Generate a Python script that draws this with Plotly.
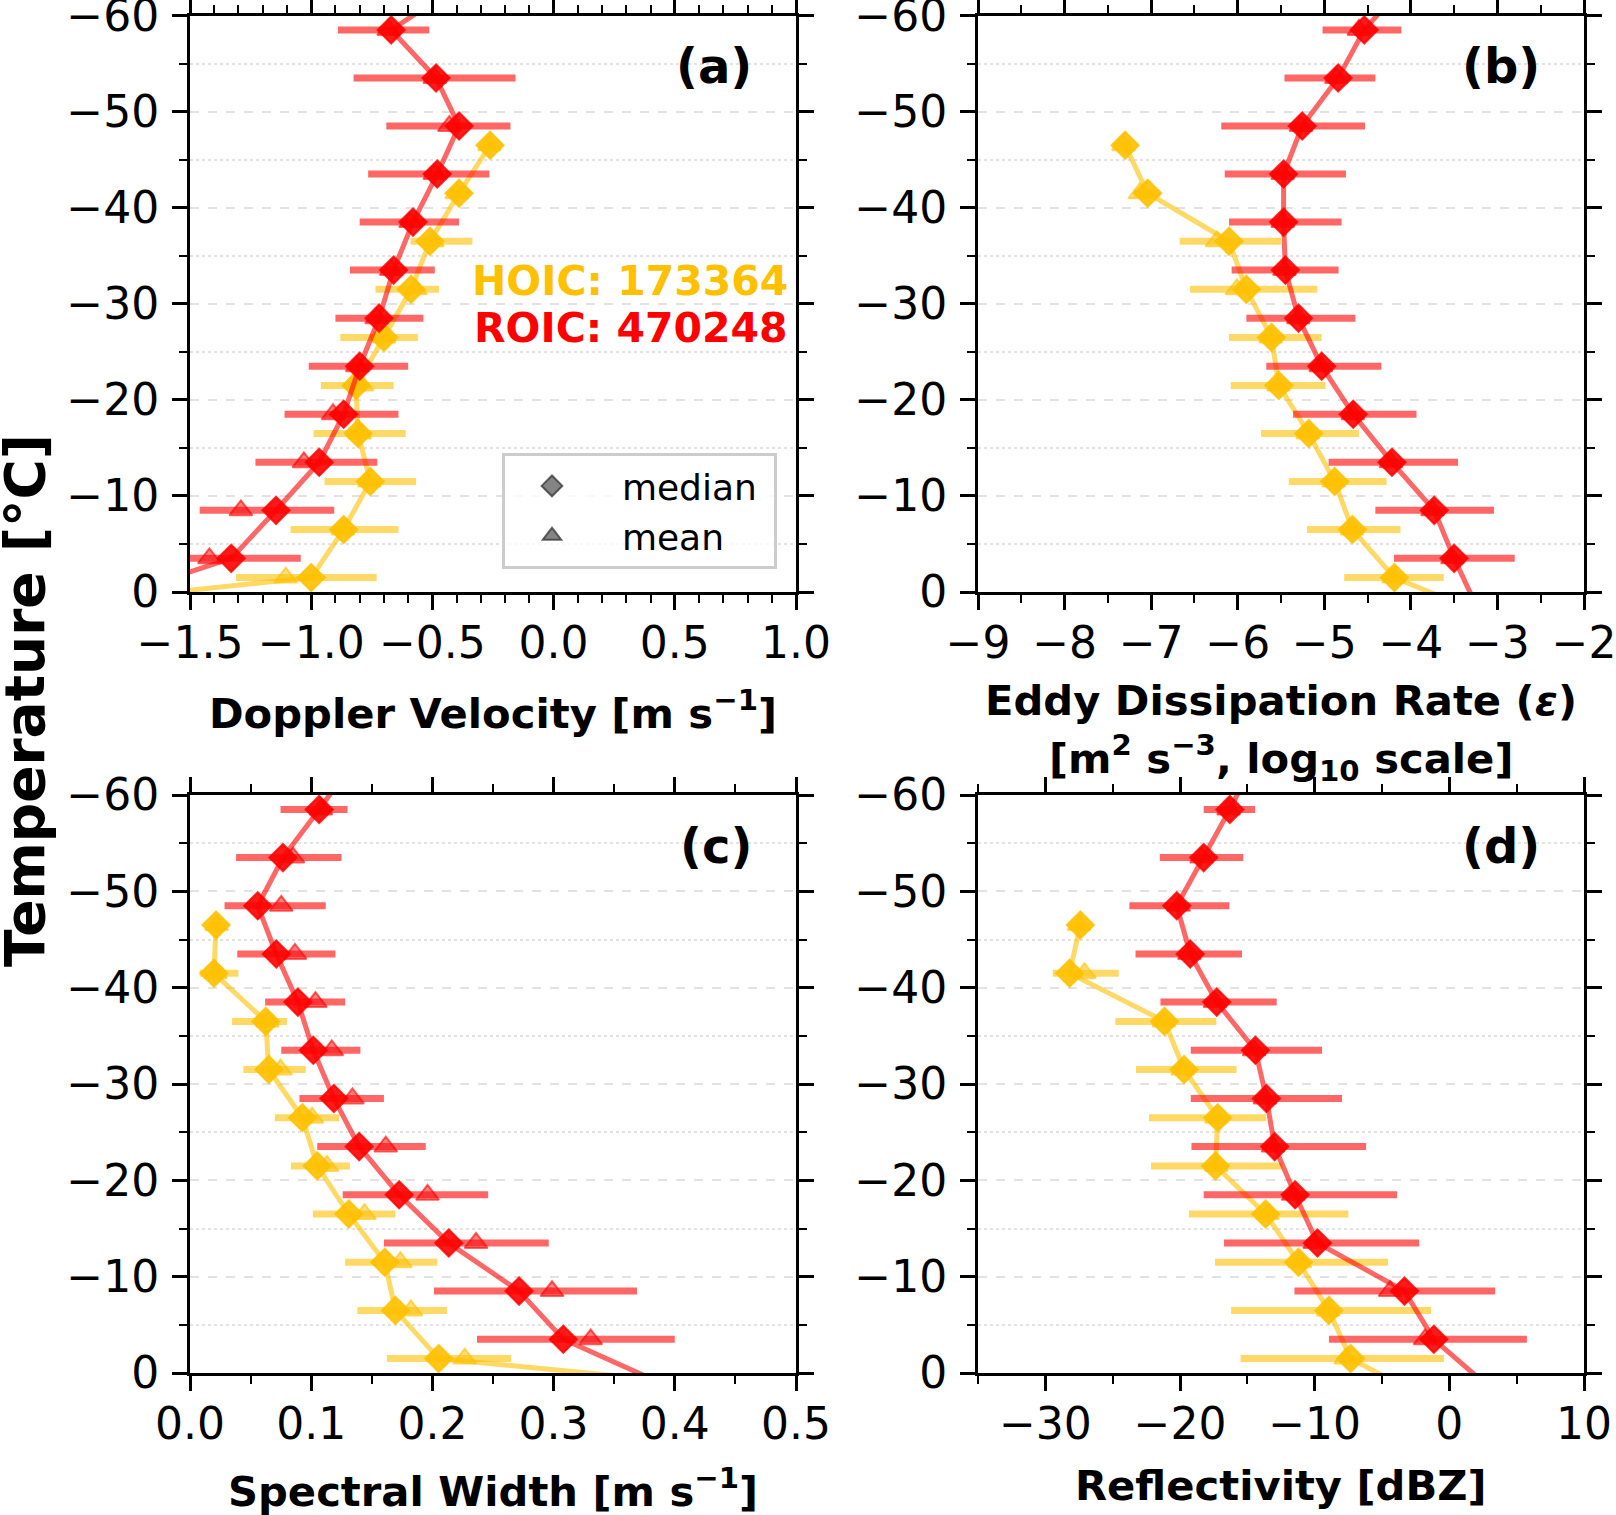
import plotly.graph_objects as go

# ============================
# Temperature bins [°C]
# ============================
t_roic = [-3.5, -8.5, -13.5, -18.5, -23.5, -28.5, -33.5, -38.5, -43.5, -48.5, -53.5, -58.5]
t_hoic = [-1.5, -6.5, -11.5, -16.5, -21.5, -26.5, -31.5, -36.5, -41.5, -46.5]
# profile lines run one bin further
t_roic_line = [1.5] + t_roic + [-63.5]
t_hoic_line = [3.5] + t_hoic

# ============================
# (a) Doppler velocity [m s-1]
# ============================
vd_roic_med = [-1.33, -1.145, -0.967, -0.866, -0.80, -0.72, -0.66, -0.58, -0.48, -0.39, -0.485, -0.67]
vd_roic_mean = [-1.42, -1.29, -1.03, -0.91, -0.81, -0.73, -0.67, -0.59, -0.49, -0.43, -0.49, -0.68]
vd_roic_p25 = [-1.60, -1.46, -1.23, -1.11, -1.01, -0.90, -0.84, -0.80, -0.765, -0.69, -0.825, -0.89]
vd_roic_p75 = [-1.043, -0.905, -0.727, -0.64, -0.60, -0.537, -0.49, -0.39, -0.265, -0.178, -0.157, -0.513]
vd_roic_line = [-1.94] + vd_roic_med + [-0.37]

vd_hoic_med = [-1.00, -0.866, -0.756, -0.807, -0.815, -0.70, -0.588, -0.51, -0.39, -0.262]
vd_hoic_mean = [-1.105, -0.87, -0.76, -0.80, -0.79, -0.70, -0.57, -0.50, -0.40, -0.265]
vd_hoic_p25 = [-1.31, -1.085, -0.945, -0.99, -0.96, -0.88, -0.735, -0.59, -0.43, -0.29]
vd_hoic_p75 = [-0.73, -0.64, -0.567, -0.61, -0.66, -0.56, -0.473, -0.335, -0.35, -0.24]
vd_hoic_line = [-2.9] + vd_hoic_med

# ============================
# (b) Eddy dissipation rate [log10 m2 s-3]
# ============================
edr_roic_med = [-3.50, -3.73, -4.218, -4.666, -5.03, -5.297, -5.45, -5.47, -5.47, -5.255, -4.84, -4.538]
edr_roic_mean = [-3.52, -3.75, -4.23, -4.67, -5.04, -5.30, -5.46, -5.48, -5.48, -5.27, -4.86, -4.60]
edr_roic_p25 = [-4.195, -4.41, -4.95, -5.36, -5.67, -5.90, -6.07, -6.10, -6.15, -6.19, -5.46, -5.02]
edr_roic_p75 = [-2.80, -3.04, -3.455, -3.935, -4.34, -4.64, -4.835, -4.80, -4.75, -4.53, -4.41, -4.11]
edr_roic_line = [-3.24] + edr_roic_med + [-4.05]

edr_hoic_med = [-4.19, -4.675, -4.88, -5.18, -5.525, -5.61, -5.90, -6.10, -7.04, -7.30]
edr_hoic_mean = [-4.20, -4.68, -4.89, -5.19, -5.53, -5.62, -6.01, -6.24, -7.13, -7.32]
edr_hoic_p25 = [-4.77, -5.20, -5.41, -5.73, -6.08, -6.10, -6.55, -6.67, -7.20, -7.35]
edr_hoic_p75 = [-3.62, -4.12, -4.28, -4.60, -4.985, -5.03, -5.08, -5.50, -6.90, -7.25]
edr_hoic_line = [-2.84] + edr_hoic_med

# ============================
# (c) Spectral width [m s-1]
# ============================
sw_roic_med = [0.308, 0.2715, 0.2135, 0.1726, 0.1396, 0.1187, 0.1017, 0.089, 0.0712, 0.0559, 0.0767, 0.1066]
sw_roic_mean = [0.3306, 0.2987, 0.236, 0.196, 0.1615, 0.134, 0.117, 0.1035, 0.0866, 0.0753, 0.085, 0.108]
sw_roic_p25 = [0.2368, 0.2013, 0.160, 0.126, 0.105, 0.0903, 0.0753, 0.062, 0.039, 0.0285, 0.038, 0.0747]
sw_roic_p75 = [0.400, 0.3688, 0.296, 0.246, 0.1945, 0.160, 0.1406, 0.128, 0.120, 0.112, 0.125, 0.130]
sw_roic_line = [0.3966] + sw_roic_med + [0.135]

sw_hoic_med = [0.2052, 0.1695, 0.1607, 0.131, 0.105, 0.0927, 0.065, 0.0625, 0.0198, 0.0215]
sw_hoic_mean = [0.2267, 0.1823, 0.1736, 0.144, 0.113, 0.1007, 0.0747, 0.064, 0.021, 0.022]
sw_hoic_p25 = [0.1625, 0.138, 0.128, 0.1014, 0.0833, 0.070, 0.044, 0.0347, 0.008, 0.018]
sw_hoic_p75 = [0.265, 0.212, 0.204, 0.1695, 0.132, 0.123, 0.0955, 0.080, 0.040, 0.025]
sw_hoic_line = [0.615] + sw_hoic_med

# ============================
# (d) Reflectivity [dBZ]
# ============================
ze_roic_med = [-1.15, -3.33, -9.79, -11.45, -12.97, -13.58, -14.4, -17.27, -19.24, -20.24, -18.24, -16.3]
ze_roic_mean = [-1.8, -4.4, -10.0, -11.6, -13.1, -13.7, -14.5, -17.4, -19.3, -20.1, -18.4, -16.4]
ze_roic_p25 = [-8.94, -11.5, -16.73, -18.24, -19.15, -19.2, -19.2, -21.45, -23.3, -23.76, -21.5, -18.24]
ze_roic_p75 = [5.76, 3.4, -2.24, -3.88, -6.18, -7.97, -9.45, -12.82, -15.4, -16.33, -15.3, -14.42]
ze_roic_line = [2.97] + ze_roic_med + [-14.5]

ze_hoic_med = [-7.33, -8.94, -11.2, -13.64, -17.36, -17.2, -19.7, -21.15, -28.2, -27.4]
ze_hoic_mean = [-7.7, -9.0, -11.1, -13.5, -17.3, -17.3, -19.8, -21.2, -27.1, -27.5]
ze_hoic_p25 = [-15.5, -16.2, -17.4, -19.33, -22.15, -22.3, -23.27, -24.8, -29.45, -27.8]
ze_hoic_p75 = [-0.4, -1.36, -4.55, -7.5, -12.4, -13.6, -15.8, -17.3, -24.55, -27.0]
ze_hoic_line = [-0.6] + ze_hoic_med

n_hoic = 173364
n_roic = 470248

FONT = 'DejaVu Sans'
RED = 'rgb(255,0,0)'
GOLD = 'rgb(255,192,0)'
W, H = 1616, 1515

panels = [
    # axis suffix, label, x title lines with their centre (px from top), roic stats, hoic stats
    ('', '(a)', [('Doppler Velocity [m s<sup>−1</sup>]', 710)],
     (vd_roic_med, vd_roic_mean, vd_roic_p25, vd_roic_p75, vd_roic_line),
     (vd_hoic_med, vd_hoic_mean, vd_hoic_p25, vd_hoic_p75, vd_hoic_line)),
    ('2', '(b)', [('Eddy Dissipation Rate (<i>ε</i>)', 700),
                  ('[m<sup>2</sup> s<sup>−3</sup>, log<sub>10</sub> scale]', 758)],
     (edr_roic_med, edr_roic_mean, edr_roic_p25, edr_roic_p75, edr_roic_line),
     (edr_hoic_med, edr_hoic_mean, edr_hoic_p25, edr_hoic_p75, edr_hoic_line)),
    ('3', '(c)', [('Spectral Width [m s<sup>−1</sup>]', 1488)],
     (sw_roic_med, sw_roic_mean, sw_roic_p25, sw_roic_p75, sw_roic_line),
     (sw_hoic_med, sw_hoic_mean, sw_hoic_p25, sw_hoic_p75, sw_hoic_line)),
    ('4', '(d)', [('Reflectivity [dBZ]', 1485)],
     (ze_roic_med, ze_roic_mean, ze_roic_p25, ze_roic_p75, ze_roic_line),
     (ze_hoic_med, ze_hoic_mean, ze_hoic_p25, ze_hoic_p75, ze_hoic_line)),
]

fig = go.Figure()


def add_group(sfx, temps, temps_line, stats, rgb):
    med, mean, p25, p75, line = stats
    xa, ya = 'x' + sfx, 'y' + sfx
    base = rgb[4:-1]
    fig.add_trace(go.Scatter(
        x=line, y=temps_line, mode='lines', xaxis=xa, yaxis=ya,
        line=dict(color=f'rgba({base},0.6)', width=5), showlegend=False, hoverinfo='skip'))
    # interquartile range bars
    fig.add_trace(go.Scatter(
        x=med, y=temps, mode='markers', xaxis=xa, yaxis=ya, showlegend=False,
        marker=dict(size=1, color='rgba(0,0,0,0)'),
        error_x=dict(type='data', symmetric=False,
                     array=[b - m for b, m in zip(p75, med)],
                     arrayminus=[m - a for a, m in zip(p25, med)],
                     color=f'rgba({base},0.6)', thickness=7, width=0)))
    fig.add_trace(go.Scatter(
        x=mean, y=temps, mode='markers', xaxis=xa, yaxis=ya, showlegend=False,
        marker=dict(symbol='triangle-up', size=20, color=f'rgba({base},0.5)',
                    line=dict(color=f'rgba({base},0.6)', width=2))))
    fig.add_trace(go.Scatter(
        x=med, y=temps, mode='markers', xaxis=xa, yaxis=ya, showlegend=False,
        marker=dict(symbol='diamond', size=21, color=f'rgba({base},0.9)',
                    line=dict(color=f'rgba({base},0.8)', width=2))))


for sfx, lab, xtitle, roic, hoic in panels:
    add_group(sfx, t_hoic, t_hoic_line, hoic, GOLD)
    add_group(sfx, t_roic, t_roic_line, roic, RED)
    fig.add_annotation(text=lab, xref=f'x{sfx} domain', yref=f'y{sfx} domain',
                       x=0.93, y=0.912, xanchor='right', yanchor='middle', showarrow=False,
                       font=dict(family=FONT, size=48, color='black', weight='bold'))
    for txt, ty in xtitle:
        fig.add_annotation(text=txt, xref=f'x{sfx} domain', yref='paper',
                           x=0.5, y=1 - ty / H, xanchor='center', yanchor='middle', showarrow=False,
                           font=dict(family=FONT, size=41.7, color='black', weight='bold'))

# legend-only entries
fig.add_trace(go.Scatter(x=[None], y=[None], mode='markers', name='\u00a0\u00a0median\u00a0',
                         marker=dict(symbol='diamond', size=16, color='rgba(80,80,80,0.7)',
                                     line=dict(color='rgba(40,40,40,0.7)', width=2))))
fig.add_trace(go.Scatter(x=[None], y=[None], mode='markers', name='\u00a0\u00a0mean',
                         marker=dict(symbol='triangle-up', size=16, color='rgba(80,80,80,0.7)',
                                     line=dict(color='rgba(40,40,40,0.7)', width=2))))

fig.add_annotation(text=f'HOIC: {n_hoic}', xref='x domain', yref='y domain', x=0.99, y=0.5395,
                   xanchor='right', yanchor='middle', showarrow=False,
                   font=dict(family=FONT, size=41, color=GOLD, weight='bold'))
fig.add_annotation(text=f'ROIC: {n_roic}', xref='x domain', yref='y domain', x=0.99, y=0.458,
                   xanchor='right', yanchor='middle', showarrow=False,
                   font=dict(family=FONT, size=41, color=RED, weight='bold'))
fig.add_annotation(text='Temperature [°C]', xref='paper', yref='paper', x=25 / W, y=1 - 701 / H,
                   textangle=-90, showarrow=False, xanchor='center', yanchor='middle',
                   font=dict(family=FONT, size=55, color='black', weight='bold'))

xdom_l, xdom_r = [190 / W, 796 / W], [978 / W, 1584 / W]
ydom_t, ydom_b = [1 - 592 / H, 1 - 15.5 / H], [1 - 1373 / H, 1 - 795 / H]

tickfont = dict(family=FONT, size=44, color='black')
common = dict(showline=True, linecolor='black', linewidth=3, mirror='ticks',
              ticks='outside', ticklen=15, tickwidth=3, tickcolor='black',
              tickfont=tickfont, zeroline=False, automargin=False,
              ticklabeloverflow='allow')

xspecs = [
    ('xaxis', xdom_l, [-1.5, 1.0], 0.5, 0.1, '.1f', 'y'),
    ('xaxis2', xdom_r, [-9, -2], 1, 0.5, 'd', 'y2'),
    ('xaxis3', xdom_l, [0, 0.5], 0.1, 0.05, '.1f', 'y3'),
    ('xaxis4', xdom_r, [-35, 10], 10, 5, 'd', 'y4'),
]
layout = {}
for key, dom, rng, dt, mdt, fmt, anchor in xspecs:
    layout[key] = dict(common, domain=dom, range=rng, dtick=dt, tick0=0, tickformat=fmt,
                       anchor=anchor, showgrid=False, ticklabelstandoff=-5,
                       minor=dict(dtick=mdt, tick0=0, ticks='outside', ticklen=8, tickwidth=2,
                                  tickcolor='black', showgrid=False))
yspecs = [('yaxis', ydom_t, 'x'), ('yaxis2', ydom_t, 'x2'),
          ('yaxis3', ydom_b, 'x3'), ('yaxis4', ydom_b, 'x4')]
for key, dom, anchor in yspecs:
    layout[key] = dict(common, domain=dom, range=[0, -60], dtick=10, tick0=0, anchor=anchor,
                       showgrid=True, gridcolor='#e2e2e2', gridwidth=2, griddash='dash',
                       ticklabelstandoff=4,
                       minor=dict(dtick=5, tick0=0, ticks='outside', ticklen=8, tickwidth=2,
                                  tickcolor='black', showgrid=True, gridcolor='#e2e2e2',
                                  gridwidth=2, griddash='dot'))

fig.update_layout(
    **layout,
    width=W, height=H,
    margin=dict(l=0, r=0, t=0, b=0, autoexpand=False),
    paper_bgcolor='white', plot_bgcolor='white',
    font=dict(family=FONT, color='black'),
    legend=dict(x=502 / W, y=1 - 453 / H, xanchor='left', yanchor='top',
                bgcolor='rgba(255,255,255,0.8)', bordercolor='#cccccc', borderwidth=3,
                font=dict(family=FONT, size=36, color='black'), itemwidth=84),
)

# the page body has a default 8 px margin; drop it so the figure sits at the window origin
fig.write_html('out.html', config={'displayModeBar': False},
               post_script="document.body.style.margin='0px';")
